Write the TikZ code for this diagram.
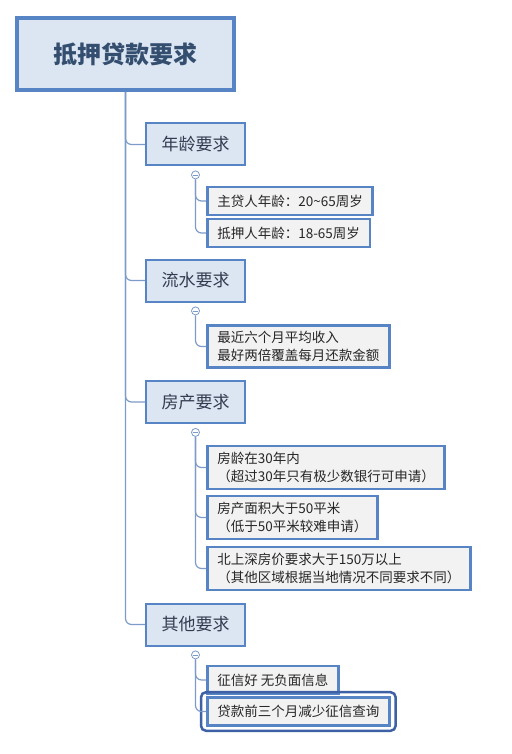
\documentclass[tikz,border=0pt]{standalone}
\usepackage{fontspec}
\setmainfont{Noto Sans CJK SC}
\usepackage{tikz}
\usetikzlibrary{positioning}
\definecolor{boxblue}{RGB}{86,132,196}
\definecolor{rootfill}{RGB}{220,230,242}
\definecolor{leaffill}{RGB}{242,242,242}
\definecolor{linecol}{RGB}{125,155,200}
\definecolor{roottext}{RGB}{52,78,112}
\definecolor{topictext}{RGB}{50,60,80}
\definecolor{selblue}{RGB}{62,96,165}
\tikzset{
  rootbox/.style={draw=boxblue, line width=4pt, fill=rootfill, text=roottext,
    font=\fontsize{24}{28}\selectfont\bfseries, minimum width=217pt, minimum height=72pt, inner sep=0pt},
  topicbox/.style={draw=boxblue, line width=2pt, fill=rootfill, text=topictext,
    font=\fontsize{17}{20}\selectfont, minimum width=99pt, minimum height=42pt, inner sep=0pt},
  leafbox/.style={draw=boxblue, line width=2.6pt, fill=leaffill, text=black!85,
    font=\fontsize{13.5}{18}\selectfont, anchor=west, align=left,
    inner xsep=10pt, inner ysep=6pt, minimum height=28pt},
  branch/.style={draw=linecol, line width=1.2pt, rounded corners=6pt},
  fold/.style={circle, draw=linecol, fill=white, line width=0.8pt, minimum size=8pt, inner sep=0pt,
    path picture={\draw[linecol, line width=0.7pt]
      ([xshift=-2.2pt]path picture bounding box.center) -- ([xshift=2.2pt]path picture bounding box.center);}},
  selring/.style={draw=selblue, line width=2.5pt, rounded corners=5pt},
}

\begin{document}
\begin{tikzpicture}[x=1pt, y=-1pt]

        \useasboundingbox (0,0) rectangle (511,754);

        % Root
        \node[rootbox] (root) at (125.5,54) {抵押贷款要求};

        % Main topics
        \node[topicbox] (age) at (195.5,144.5) {年龄要求};
        \node[topicbox] (flow) at (195.5,280.5) {流水要求};
        \node[topicbox] (house) at (195.5,402) {房产要求};
        \node[topicbox] (other) at (195.5,624.5) {其他要求};

        % Fold markers
        \node[fold, below=4pt of age] (agef) {};
        \node[fold, below=4pt of flow] (flowf) {};
        \node[fold, below=4pt of house] (housef) {};
        \node[fold, below=4pt of other] (otherf) {};

        % Details
        \node[leafbox] (age1) at (206,201) {主贷人年龄：20\textasciitilde65周岁};
        \node[leafbox] (age2) at (206,233) {抵押人年龄：18-65周岁};
        \node[leafbox] (flow1) at (206,346.5) {最近六个月平均收入\\最好两倍覆盖每月还款金额};
        \node[leafbox] (house1) at (206,467.5) {房龄在30年内\\（超过30年只有极少数银行可申请）};
        \node[leafbox] (house2) at (206,517.5) {房产面积大于50平米\\（低于50平米较难申请）};
        \node[leafbox] (house3) at (206,568.5) {北上深房价要求大于150万以上\\（其他区域根据当地情况不同要求不同）};
        \node[leafbox] (other1) at (206,680) {征信好 无负面信息};
        \node[leafbox] (other2) at (206,711.5) {贷款前三个月减少征信查询};

        % Selected item
        \draw[selring] ([xshift=-5pt,yshift=4pt]other2.north west) rectangle ([xshift=5pt,yshift=-4pt]other2.south east);

        % Trunk
        \foreach \t in {age,flow,house,other}
            \draw[branch] (root.south) |- (\t.west);

        % Branches
        \draw[branch] (agef.south) |- (age1.west);
        \draw[branch] (agef.south) |- (age2.west);
        \draw[branch] (flowf.south) |- (flow1.west);
        \foreach \l in {house1,house2,house3}
            \draw[branch] (housef.south) |- (\l.west);
        \draw[branch] (otherf.south) |- (other1.west);
        \draw[branch] (otherf.south) |- (other2.west);

\end{tikzpicture}
\end{document}
